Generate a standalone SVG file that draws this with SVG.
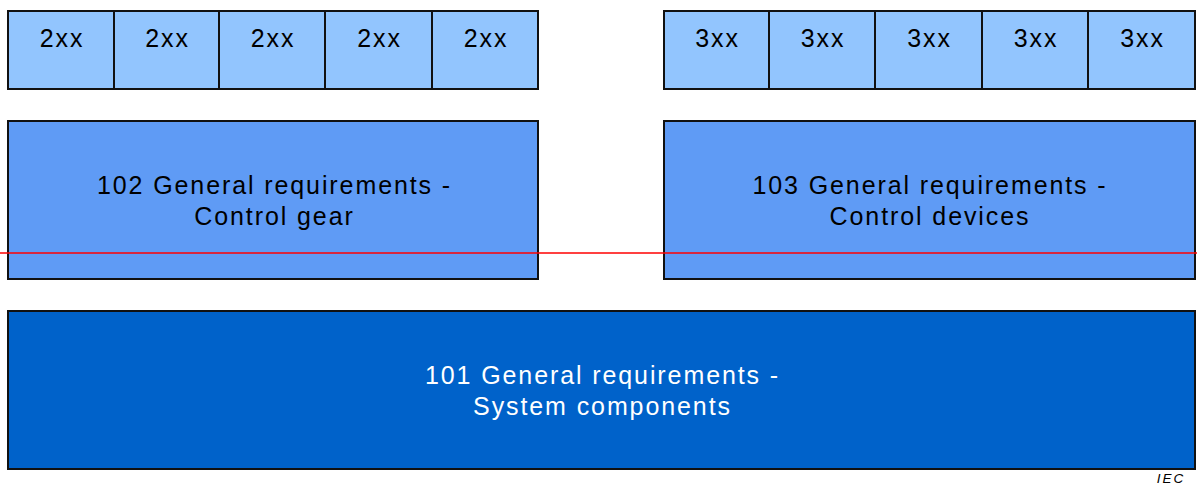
<svg xmlns="http://www.w3.org/2000/svg" width="1197" height="486" viewBox="0 0 1197 486">
<style>
.b{stroke:#111;stroke-width:2}
.l{fill:#92C5FE}
.m{fill:#5F9BF5}
.d{fill:#0062CA}
text{font-family:"Liberation Sans",Arial,sans-serif;text-anchor:middle;font-size:25px;letter-spacing:1.9px}
.t{fill:#000}
.w{fill:#fff}
</style>
<rect width="1197" height="486" fill="#fff"/>
<g id="cells2xx">
<rect class="b l" x="8" y="11" width="106" height="78"/>
<rect class="b l" x="114" y="11" width="105" height="78"/>
<rect class="b l" x="219" y="11" width="106" height="78"/>
<rect class="b l" x="325" y="11" width="107" height="78"/>
<rect class="b l" x="432" y="11" width="106" height="78"/>
<text class="t" x="62" y="47">2xx</text>
<text class="t" x="167.5" y="47">2xx</text>
<text class="t" x="273" y="47">2xx</text>
<text class="t" x="379.5" y="47">2xx</text>
<text class="t" x="486" y="47">2xx</text>
</g>
<g id="cells3xx">
<rect class="b l" x="664" y="11" width="105" height="78"/>
<rect class="b l" x="769" y="11" width="106" height="78"/>
<rect class="b l" x="875" y="11" width="107" height="78"/>
<rect class="b l" x="982" y="11" width="106" height="78"/>
<rect class="b l" x="1088" y="11" width="107" height="78"/>
<text class="t" x="717.5" y="47">3xx</text>
<text class="t" x="823" y="47">3xx</text>
<text class="t" x="929.5" y="47">3xx</text>
<text class="t" x="1036" y="47">3xx</text>
<text class="t" x="1142.5" y="47">3xx</text>
</g>
<g id="n102">
<rect class="b m" x="8" y="121" width="530" height="158"/>
<text class="t" x="274.5" y="194">102 General requirements -</text>
<text class="t" x="274.5" y="225">Control gear</text>
</g>
<g id="n103">
<rect class="b m" x="664" y="121" width="531" height="158"/>
<text class="t" x="930" y="194">103 General requirements -</text>
<text class="t" x="930" y="225">Control devices</text>
</g>
<g id="n101">
<rect class="b d" x="8" y="311" width="1187" height="158"/>
<text class="w" x="602.5" y="384">101 General requirements -</text>
<text class="w" x="602.5" y="415">System components</text>
</g>
<g id="connectors">
<line x1="0" y1="253" x2="1197" y2="253" stroke="#FF0000" stroke-width="1.5"/>
</g>
<text x="1171" y="483" style="font-size:13.5px;font-style:italic;letter-spacing:2px;fill:#000">IEC</text>
</svg>
